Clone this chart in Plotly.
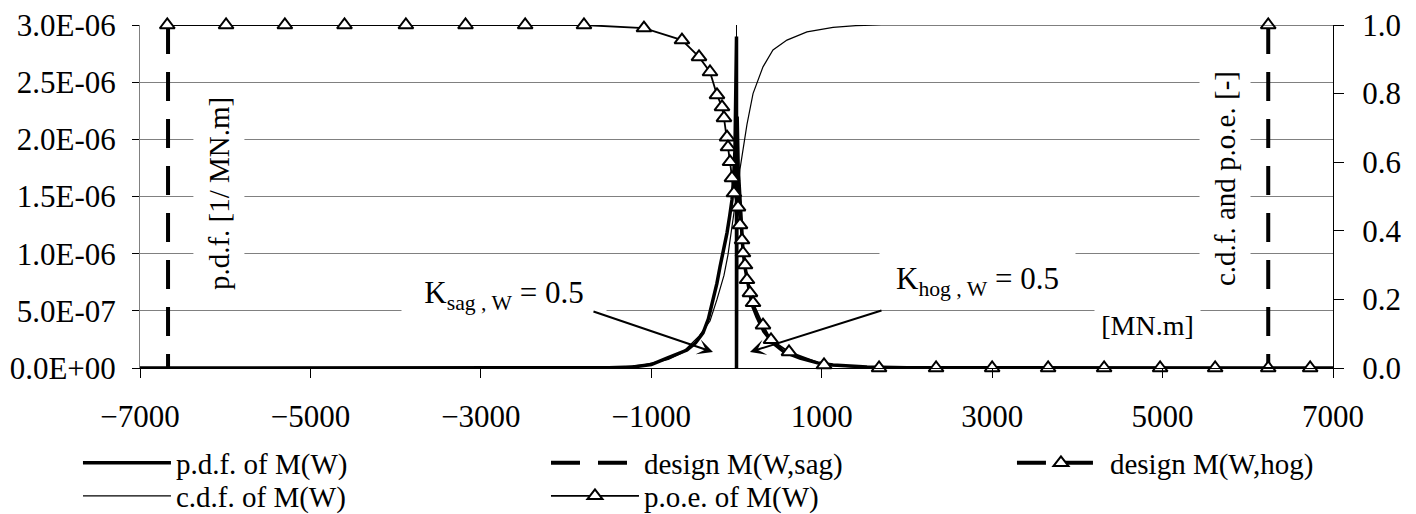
import plotly.graph_objects as go

FONT = "Liberation Serif"

# ---------------- data ----------------
pdf_x = [-7000, -2000, -1500, -1215, -1000, -816, -700, -581, -480, -393, -330, -276, -230, -194,
         -150, -112, -80, -53, -35, -18, -8, 0, 0, 8, 20, 41, 60, 76, 100, 135, 180, 241, 320, 428,
         560, 745, 950, 1133, 1532, 2000, 7000]
pdf_y = [0, 0, 0.002e-6, 0.009e-6, 0.03e-6, 0.087e-6, 0.12e-6, 0.157e-6, 0.22e-6, 0.306e-6, 0.43e-6,
         0.595e-6, 0.74e-6, 0.883e-6, 1.04e-6, 1.18e-6, 1.33e-6, 1.47e-6, 1.65e-6, 1.91e-6, 2.45e-6,
         2.9e-6, 0, 2.2e-6, 1.75e-6, 1.47e-6, 1.2e-6, 1.03e-6, 0.88e-6, 0.74e-6, 0.56e-6, 0.446e-6,
         0.32e-6, 0.219e-6, 0.14e-6, 0.087e-6, 0.045e-6, 0.026e-6, 0.009e-6, 0.002e-6, 0]

cdf_x = [-7000, -2000, -1700, -1300, -1086, -800, -640, -440, -311, -229, -147, -100, -53, -20, 0,
         18, 41, 65, 123, 194, 311, 428, 592, 827, 1133, 1400, 1700, 7000]
cdf_y = [0, 0, 0.001, 0.004, 0.009, 0.025, 0.044, 0.093, 0.137, 0.2, 0.27, 0.33, 0.42, 0.47, 0.5,
         0.52, 0.58, 0.62, 0.71, 0.8, 0.878, 0.927, 0.956, 0.98, 0.993, 0.998, 1.0, 1.0]

poe_x = [-6680, -5990, -5300, -4600, -3880, -3180, -2480, -1790, -1086, -640, -440, -311, -229, -170,
         -147, -111, -100, -76, -53, -30, 18, 41, 65, 76, 100, 123, 158, 194, 311, 405, 616, 1027,
         1673, 2342, 3000, 3657, 4314, 4971, 5617, 6732]
poe_y = [1, 1, 1, 1, 1, 1, 1, 1, 0.991, 0.956, 0.907, 0.863, 0.796, 0.761, 0.729, 0.673, 0.644, 0.601,
         0.554, 0.51, 0.469, 0.417, 0.373, 0.335, 0.300, 0.257, 0.219, 0.190, 0.125, 0.082, 0.047,
         0.009, 0, 0, 0, 0, 0, 0, 0, 0]

sag_x = [-6671, -6671]
sag_y = [3.0e-6, 0]
hog_x = [6240, 6240]
hog_y = [1.0, 0]

x_ticks = [-7000, -5000, -3000, -1000, 1000, 3000, 5000, 7000]
y_ticks = [0, 0.5e-6, 1.0e-6, 1.5e-6, 2.0e-6, 2.5e-6, 3.0e-6]
y_tick_text = ["0.0E+00", "5.0E-07", "1.0E-06", "1.5E-06", "2.0E-06", "2.5E-06", "3.0E-06"]
y2_ticks = [0, 0.2, 0.4, 0.6, 0.8, 1.0]

# ---------------- figure ----------------
tri = dict(symbol="triangle-up", size=13, color="white", line=dict(color="black", width=2))
DASH = "29px,18px"

fig = go.Figure()
fig.add_trace(go.Scatter(x=pdf_x, y=pdf_y, mode="lines", name="p.d.f. of M(W)",
                         line=dict(color="black", width=3.5), yaxis="y", legend="legend",
                         cliponaxis=False))
fig.add_trace(go.Scatter(x=sag_x, y=sag_y, mode="lines", name="design M(W,sag)",
                         line=dict(color="black", width=4, dash=DASH), yaxis="y",
                         legend="legend2", cliponaxis=False))
fig.add_trace(go.Scatter(x=hog_x, y=hog_y, mode="lines+markers", name="design M(W,hog)",
                         line=dict(color="black", width=4, dash=DASH), marker=tri,
                         yaxis="y2", legend="legend3", cliponaxis=False))
fig.add_trace(go.Scatter(x=cdf_x, y=cdf_y, mode="lines", name="c.d.f. of M(W)",
                         line=dict(color="black", width=1.2), yaxis="y2", legend="legend4",
                         cliponaxis=False))
fig.add_trace(go.Scatter(x=poe_x, y=poe_y, mode="lines+markers", name="p.o.e. of M(W)",
                         line=dict(color="black", width=1.8), marker=tri, yaxis="y2",
                         legend="legend5", cliponaxis=False))

leg_common = dict(orientation="v", xanchor="left", yanchor="middle", bgcolor="rgba(0,0,0,0)",
                  font=dict(family=FONT, size=29, color="black"), itemwidth=88, tracegroupgap=0)
col_x = [-0.0520, 0.3403, 0.7309]
row_y = [-0.277, -0.373]

fig.update_layout(
    width=1416, height=514,
    margin=dict(l=140, r=83, t=25, b=146, autoexpand=False),
    paper_bgcolor="white", plot_bgcolor="white",
    font=dict(family=FONT, size=31, color="black"),
    xaxis=dict(range=[-7000, 7000], tickvals=x_ticks, showgrid=False, automargin=False,
               zeroline=True, zerolinecolor="black", zerolinewidth=1,
               showline=True, linecolor="black", linewidth=1,
               ticks="outside", ticklen=9, tickcolor="black", ticklabelstandoff=12,
               tickfont=dict(family=FONT, size=31)),
    yaxis=dict(range=[0, 3.0e-6], tickvals=y_ticks, ticktext=y_tick_text, automargin=False,
               showgrid=True, gridcolor="#808080", gridwidth=1, zeroline=False,
               showline=True, linecolor="#808080", linewidth=1,
               ticks="outside", ticklen=7, tickcolor="black", ticklabelstandoff=10,
               tickfont=dict(family=FONT, size=31)),
    yaxis2=dict(range=[0, 1.0], tickvals=y2_ticks, tickformat=".1f", overlaying="y", side="right",
                automargin=False, showgrid=False, zeroline=False, showline=True,
                linecolor="black", linewidth=1,
                ticks="outside", ticklen=10, tickcolor="black", ticklabelstandoff=12,
                tickfont=dict(family=FONT, size=31)),
    legend=dict(x=col_x[0], y=row_y[0], **leg_common),
    legend2=dict(x=col_x[1], y=row_y[0], **leg_common),
    legend3=dict(x=col_x[2], y=row_y[0], **leg_common),
    legend4=dict(x=col_x[0], y=row_y[1], **leg_common),
    legend5=dict(x=col_x[1], y=row_y[1], **leg_common),
    showlegend=True,
)

ann_font = dict(family=FONT, size=31, color="black")
fig.add_annotation(text="p.d.f. [1/ MN.m]", xref="paper", yref="paper", x=0.0662, y=0.510,
                   xanchor="center", yanchor="middle",
                   textangle=-90, showarrow=False, bgcolor="white", borderpad=9,
                   font=dict(family=FONT, size=29, color="black"))
fig.add_annotation(text="c.d.f. and p.o.e. [-]", xref="paper", yref="paper", x=0.9095, y=0.551,
                   xanchor="center", yanchor="middle",
                   textangle=-90, showarrow=False, bgcolor="white", borderpad=9,
                   font=dict(family=FONT, size=29, color="black"))
fig.add_annotation(text="K<sub>sag , W</sub> = 0.5", xref="x", yref="y", x=-2729, y=6.73e-7,
                   showarrow=False, bgcolor="white", width=204, height=48, borderpad=0,
                   valign="bottom", font=ann_font)
fig.add_annotation(text="K<sub>hog , W</sub> = 0.5", xref="x", yref="y", x=2829, y=7.6e-7,
                   showarrow=False, bgcolor="white", width=195, height=56, borderpad=0,
                   valign="middle", font=ann_font)
fig.add_annotation(text="[MN.m]", xref="x", yref="y", x=4818, y=3.76e-7,
                   showarrow=False, bgcolor="white", width=105, height=36, borderpad=0,
                   font=dict(family=FONT, size=28, color="black"))
# arrows
fig.add_annotation(text="", xref="x", yref="y", x=-276, y=1.4e-7, axref="x", ayref="y",
                   ax=-1696, ay=4.99e-7, showarrow=True, arrowhead=3, arrowsize=1.3,
                   arrowwidth=2, arrowcolor="black")
fig.add_annotation(text="", xref="x", yref="y", x=158, y=1.4e-7, axref="x", ayref="y",
                   ax=1719, ay=5.07e-7, showarrow=True, arrowhead=3, arrowsize=1.3,
                   arrowwidth=2, arrowcolor="black")

fig.write_html("out.html")
